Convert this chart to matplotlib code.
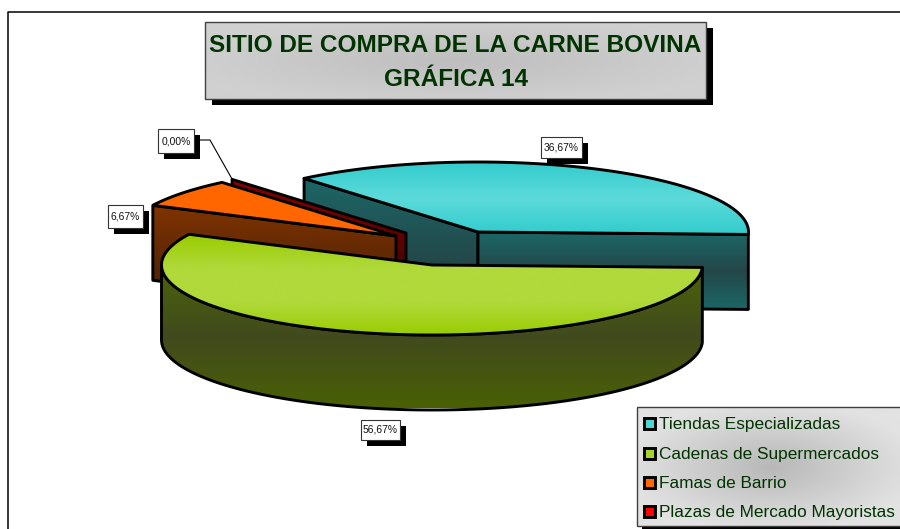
"""Exploded 3D pie: sitio de compra de la carne bovina (grafica 14)."""

import matplotlib
matplotlib.use("Agg")
import matplotlib.pyplot as plt
import numpy as np
from matplotlib.colors import LinearSegmentedColormap
from matplotlib.patches import Polygon, Rectangle

plt.rcParams["font.family"] = ["Liberation Sans", "DejaVu Sans"]

categories = [
    "Tiendas Especializadas",
    "Cadenas de Supermercados",
    "Famas de Barrio",
    "Plazas de Mercado Mayoristas",
]
shares = [36.67, 56.67, 6.67, 0.00]
share_labels = ["36,67%", "56,67%", "6,67%", "0,00%"]
title_lines = ["SITIO DE COMPRA DE LA CARNE BOVINA", "GRÁFICA 14"]

TXT = "#003300"
RX, RY, DEPTH = 270.5, 70.0, 75.0
START = -2.0
LW = 2.1

# wedge apex of every exploded slice, in pixels
apex = {0: (478, 232), 1: (432, 265), 2: (396, 236), 3: (406, 233)}

fig = plt.figure(figsize=(9, 5.29), dpi=100)
ax = fig.add_axes([0, 0, 1, 1])


def arc(i, t0, t1, dy=0.0, n=120):
    t = np.radians(np.linspace(t0, t1, n))
    cx, cy = apex[i]
    return np.column_stack([cx + RX * np.cos(t), cy - RY * np.sin(t) + dy])


def gradient_poly(pts, stops, y0, y1, edge=True, z=1):
    """Polygon filled with a vertical colour ramp between y0 and y1."""
    cmap = LinearSegmentedColormap.from_list("g", stops)
    patch = Polygon(pts, closed=True, fc="none", ec="none", zorder=z)
    ax.add_patch(patch)
    grad = np.linspace(0, 1, 256).reshape(-1, 1)
    x0, x1 = pts[:, 0].min(), pts[:, 0].max()
    im = ax.imshow(grad, cmap=cmap, extent=(x0, x1, y1, y0), aspect="auto",
                   origin="upper", zorder=z, interpolation="bilinear")
    im.set_clip_path(patch)
    if edge:
        ax.add_patch(Polygon(pts, closed=True, fc="none", ec="black", lw=LW,
                             joinstyle="round", zorder=z))


def side_wall(p, q, stops, y0, y1, z):
    pts = np.array([p, q, (q[0], q[1] + DEPTH), (p[0], p[1] + DEPTH)])
    gradient_poly(pts, stops, y0, y1, z=z)


def shaded_box(x0, y0, x1, y1, c_mid, c_edge, shadow=(6, 6), z=20):
    ax.add_patch(Rectangle((x0 + shadow[0], y0 + shadow[1]), x1 - x0, y1 - y0,
                           fc="black", ec="none", zorder=z))
    xx, yy = np.meshgrid(np.linspace(-1, 1, 200), np.linspace(-1, 1, 120))
    r = np.clip(np.sqrt(xx ** 2 + yy ** 2) / 1.1, 0, 1)
    cmap = LinearSegmentedColormap.from_list("b", [c_mid, c_edge])
    ax.imshow(r, cmap=cmap, vmin=0, vmax=1, extent=(x0, x1, y1, y0), aspect="auto",
              zorder=z, interpolation="bilinear")
    ax.add_patch(Rectangle((x0, y0), x1 - x0, y1 - y0, fc="none", ec="#404040",
                           lw=1.0, zorder=z))


# cumulative angles, running counter-clockwise for the first slice
sweep = [s * 3.6 for s in shares]
t_teal = (START, START + sweep[0])
t_green = (START - sweep[1], START)
t_orange = (t_teal[1], t_teal[1] + sweep[2])
t_maroon = (t_teal[1], t_teal[1] + sweep[3])

# outer frame of the chart area
ax.plot([7.5, 7.5, 900], [529, 12, 12], color="black", lw=1.1, zorder=0)

# teal slice
a0 = apex[0]
teal_wall = ["#1C6666", "#244749", "#1C6666"]
side_wall(arc(0, t_teal[1], t_teal[1], n=1)[0], a0, teal_wall[:2], 179, 265, 2)
side_wall(a0, arc(0, t_teal[0], t_teal[0], n=1)[0], teal_wall, 233, 309, 2)
teal_top = np.vstack([[a0], arc(0, *t_teal)])
gradient_poly(teal_top, ["#33CCCC", "#5CDADA", "#33CCCC"], 162, 234, z=3)

# zero-share slice, only its wall shows
m_end = arc(3, t_maroon[1], t_maroon[1], n=1)[0]
side_wall(m_end, apex[3], ["#8A0000", "#6E0000", "#4A0505"], 179, 262, 4)

# orange slice
o_end = arc(2, t_orange[1], t_orange[1], n=1)[0]
side_wall(o_end, apex[2], ["#803300", "#4C2208"], 205, 290, 5)
orange_top = np.vstack([[apex[2]], arc(2, *t_orange)])
ax.add_patch(Polygon(orange_top, closed=True, fc="#FF6600", ec="black", lw=LW, zorder=6))

# green slice: outer wall only for the part of the rim facing the viewer
front = arc(1, -180, t_green[1])
wall = np.vstack([front, front[::-1] + [0, DEPTH]])
gradient_poly(wall, ["#4C6408", "#414A1E", "#4A6004"], 265, 408, z=7)
green_top = np.vstack([[apex[1]], arc(1, *t_green)])
gradient_poly(green_top, ["#99CC00", "#B0D93A", "#B0D93A", "#99CC00"], 234, 336, z=8)

# title box
shaded_box(205, 22, 706, 99, "#BEBEBE", "#D0D0D0", shadow=(7, 6))
for line, y in zip(title_lines, [45.5, 79]):
    ax.text(455.5, y, line, color=TXT, fontsize=17.6, fontweight="bold",
            ha="center", va="center", zorder=21)

# value labels
label_boxes = [(541, 137, 582, 158), (361, 420, 400, 440), (108, 205, 143, 228), (158, 129, 194, 153)]
ax.plot([194, 210, 232], [140, 140, 179], color="black", lw=0.8, zorder=9)
for text, (x0, y0, x1, y1) in zip(share_labels, label_boxes):
    ax.add_patch(Rectangle((x0 + 6, y0 + 6), x1 - x0, y1 - y0, fc="black", ec="none", zorder=10))
    ax.add_patch(Rectangle((x0, y0), x1 - x0, y1 - y0, fc="white", ec="#333333", lw=0.8, zorder=11))
    ax.text((x0 + x1) / 2, (y0 + y1) / 2, text, fontsize=7.4, color="#111111",
            ha="center", va="center", zorder=12)

# legend
shaded_box(637, 407, 906, 526, "#B8B8B8", "#E2E2E2", shadow=(5, 5))
legend_colors = ["#4CD5D5", "#A8D42A", "#FF6600", "#FF0000"]
for name, col, y in zip(categories, legend_colors, [423, 453, 482, 511]):
    ax.add_patch(Rectangle((644, y - 5.5), 11, 11, fc=col, ec="black", lw=LW, zorder=22))
    ax.text(659, y + 1, name, fontsize=12.4, color=TXT, ha="left", va="center", zorder=22)

ax.set_xlim(0, 900)
ax.set_ylim(529, 0)
ax.axis("off")
fig.savefig("out.png", dpi=100, facecolor="white")
